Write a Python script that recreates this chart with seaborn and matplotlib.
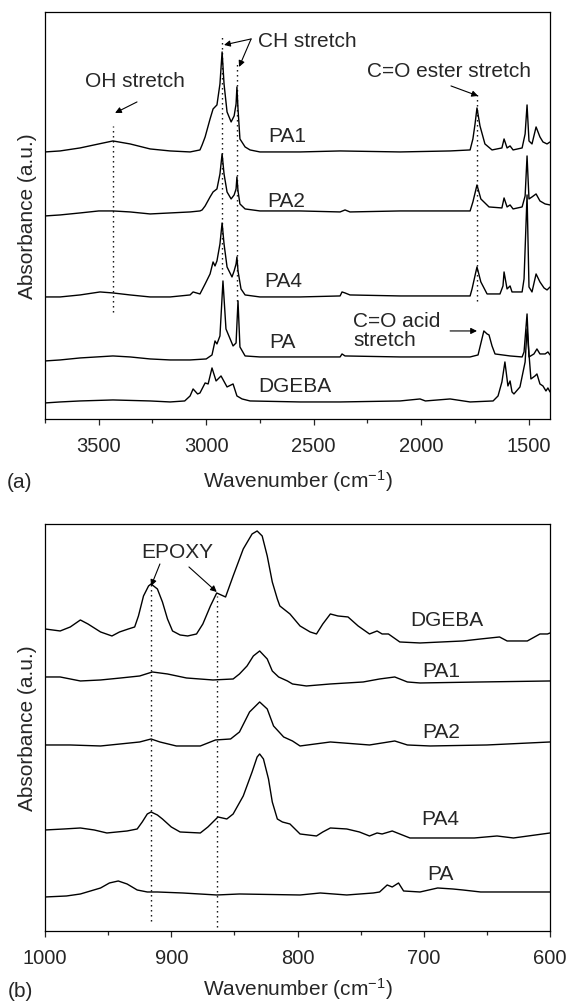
#___________________________________________________________________________________________________________________________________________
# Required Modules
import pandas as pd
import matplotlib
matplotlib.use("Agg")
import matplotlib.pyplot as plt
from matplotlib.ticker import MultipleLocator
import seaborn as sns
#___________________________________________________________________________________________________________________________________________
# Spectra (stacked, arbitrary absorbance units)
# (a) 3750 - 1400 cm-1
pa1_a_wn = [3750, 3680, 3587, 3500, 3434, 3354, 3261, 3168, 3075, 3029, 3019, 3005, 2982, 2968, 2950, 2936, 2926, 2917,
            2903, 2884, 2870, 2861, 2857, 2852, 2843, 2819, 2796, 2750, 2563, 2377, 2098, 1865, 1772, 1759, 1749, 1740,
            1726, 1703, 1670, 1624, 1614, 1600, 1586, 1572, 1530, 1516, 1507, 1498, 1484, 1465, 1447, 1433, 1414, 1400]
pa1_a_abs = [2.67, 2.68, 2.71, 2.75, 2.78, 2.75, 2.70, 2.68, 2.67, 2.69, 2.74, 2.82, 3.00, 3.10, 3.14, 3.35, 3.67, 3.35,
             3.07, 2.97, 3.03, 3.15, 3.32, 3.10, 2.80, 2.72, 2.69, 2.67, 2.67, 2.68, 2.67, 2.68, 2.69, 2.80, 2.95, 3.11,
             2.93, 2.75, 2.69, 2.71, 2.80, 2.71, 2.73, 2.69, 2.71, 2.85, 3.14, 2.78, 2.75, 2.92, 2.82, 2.77, 2.75, 2.77]

pa2_a_wn = [3750, 3680, 3587, 3500, 3434, 3354, 3261, 3168, 3075, 3029, 3019, 3005, 2982, 2968, 2950, 2936, 2926, 2917,
            2903, 2884, 2870, 2861, 2857, 2852, 2843, 2819, 2750, 2563, 2377, 2354, 2331, 2098, 1865, 1772, 1759, 1740,
            1722, 1684, 1624, 1614, 1600, 1586, 1572, 1530, 1516, 1507, 1498, 1484, 1465, 1447, 1423, 1400]
pa2_a_abs = [2.03, 2.04, 2.06, 2.08, 2.08, 2.07, 2.05, 2.06, 2.07, 2.08, 2.09, 2.13, 2.22, 2.27, 2.30, 2.45, 2.65, 2.45,
             2.27, 2.20, 2.24, 2.30, 2.42, 2.28, 2.15, 2.10, 2.08, 2.08, 2.07, 2.09, 2.07, 2.08, 2.08, 2.08, 2.17, 2.34,
             2.20, 2.12, 2.11, 2.21, 2.12, 2.14, 2.10, 2.12, 2.23, 2.63, 2.20, 2.22, 2.25, 2.18, 2.15, 2.14]

pa4_a_wn = [3750, 3680, 3587, 3494, 3434, 3354, 3261, 3168, 3075, 3061, 3029, 3005, 2982, 2968, 2959, 2950, 2936, 2926,
            2917, 2903, 2880, 2870, 2861, 2857, 2852, 2838, 2819, 2750, 2563, 2377, 2368, 2354, 2331, 2098, 1865, 1772,
            1763, 1740, 1722, 1693, 1633, 1619, 1614, 1600, 1586, 1577, 1530, 1521, 1507, 1498, 1484, 1465, 1447, 1428,
            1414, 1400]
pa4_a_abs = [1.22, 1.22, 1.24, 1.27, 1.26, 1.24, 1.22, 1.22, 1.24, 1.27, 1.25, 1.35, 1.45, 1.57, 1.53, 1.58, 1.75, 1.96,
             1.75, 1.52, 1.42, 1.48, 1.55, 1.62, 1.48, 1.30, 1.24, 1.22, 1.22, 1.23, 1.27, 1.26, 1.24, 1.23, 1.23, 1.23,
             1.30, 1.52, 1.37, 1.25, 1.25, 1.33, 1.47, 1.30, 1.33, 1.27, 1.27, 1.40, 2.24, 1.32, 1.27, 1.45, 1.37, 1.31,
             1.29, 1.32]

pa_a_wn = [3750, 3680, 3587, 3434, 3354, 3261, 3168, 3075, 3000, 2973, 2959, 2950, 2936, 2922, 2908, 2875, 2861, 2852,
           2843, 2819, 2750, 2563, 2377, 2368, 2354, 2098, 1865, 1772, 1735, 1717, 1708, 1693, 1684, 1670, 1656, 1586,
           1530, 1521, 1507, 1498, 1475, 1461, 1447, 1423, 1410, 1400]
pa_a_abs = [0.58, 0.59, 0.61, 0.63, 0.62, 0.60, 0.59, 0.59, 0.60, 0.64, 0.78, 0.75, 0.83, 1.38, 0.90, 0.73, 0.76, 1.18,
            0.72, 0.63, 0.62, 0.62, 0.62, 0.65, 0.63, 0.62, 0.62, 0.62, 0.64, 0.80, 0.88, 0.85, 0.84, 0.73, 0.65, 0.63,
            0.62, 0.67, 1.05, 0.62, 0.65, 0.70, 0.65, 0.65, 0.67, 0.64]

dgeba_a_wn = [3750, 3680, 3587, 3434, 3261, 3168, 3100, 3075, 3061, 3040, 3029, 3005, 2991, 2973, 2954, 2931, 2903, 2875,
              2857, 2833, 2796, 2563, 2377, 2098, 2005, 1980, 1865, 1772, 1665, 1642, 1624, 1610, 1596, 1586, 1577, 1568,
              1540, 1516, 1507, 1489, 1470, 1461, 1447, 1433, 1419, 1410, 1400]
dgeba_a_abs = [0.16, 0.17, 0.18, 0.19, 0.18, 0.17, 0.18, 0.23, 0.30, 0.25, 0.26, 0.36, 0.35, 0.51, 0.38, 0.43, 0.32, 0.35,
               0.23, 0.20, 0.18, 0.17, 0.17, 0.18, 0.20, 0.18, 0.20, 0.17, 0.18, 0.23, 0.37, 0.57, 0.33, 0.38, 0.27, 0.25,
               0.32, 0.57, 0.90, 0.40, 0.43, 0.45, 0.35, 0.33, 0.28, 0.31, 0.27]

# (b) 1000 - 600 cm-1
dgeba_b_wn = [1000, 988, 980, 972, 966, 956, 947, 941, 934, 929, 926, 922, 918, 916, 911, 907, 903, 899, 893, 887, 880,
              875, 869, 864, 857, 851, 843, 836, 832, 828, 824, 820, 816, 814, 806, 798, 790, 785, 780, 774, 768, 760,
              752, 743, 737, 733, 728, 719, 703, 669, 655, 640, 634, 618, 608, 602, 600]
dgeba_b_abs = [3.02, 3.00, 3.04, 3.11, 3.07, 2.99, 2.95, 2.99, 3.02, 3.04, 3.15, 3.35, 3.45, 3.47, 3.42, 3.29, 3.12, 3.00,
               2.96, 2.95, 2.97, 3.07, 3.25, 3.38, 3.34, 3.55, 3.82, 3.97, 4.00, 3.95, 3.75, 3.49, 3.32, 3.25, 3.17, 3.05,
               2.99, 2.97, 3.07, 3.17, 3.15, 3.14, 3.05, 2.97, 3.00, 2.97, 2.97, 2.89, 2.88, 2.90, 2.92, 2.94, 2.90, 2.90,
               2.97, 2.97, 2.98]

pa1_b_wn = [1000, 988, 972, 956, 940, 925, 915, 903, 888, 867, 851, 846, 840, 835, 830, 824, 820, 815, 808, 804, 793, 774,
            748, 735, 723, 713, 703, 655, 600]
pa1_b_abs = [2.54, 2.54, 2.50, 2.51, 2.53, 2.55, 2.59, 2.57, 2.53, 2.51, 2.52, 2.57, 2.65, 2.75, 2.80, 2.72, 2.60, 2.54,
             2.50, 2.47, 2.45, 2.47, 2.49, 2.52, 2.54, 2.49, 2.48, 2.49, 2.50]

pa2_b_wn = [1000, 980, 956, 925, 916, 909, 896, 877, 865, 853, 846, 838, 830, 824, 819, 811, 804, 798, 774, 743, 723, 713,
            695, 650, 600]
pa2_b_abs = [1.86, 1.86, 1.85, 1.89, 1.92, 1.89, 1.85, 1.85, 1.91, 1.92, 1.99, 2.19, 2.29, 2.22, 2.05, 1.94, 1.90, 1.85,
             1.89, 1.86, 1.90, 1.86, 1.85, 1.86, 1.89]

pa4_b_wn = [1000, 985, 972, 961, 951, 935, 927, 923, 919, 916, 911, 907, 900, 893, 877, 871, 863, 856, 851, 843, 836, 832,
            830, 827, 823, 820, 816, 812, 806, 798, 785, 780, 774, 761, 751, 743, 737, 733, 725, 711, 660, 642, 629, 600]
pa4_b_abs = [1.01, 1.02, 1.03, 1.01, 0.98, 1.00, 1.02, 1.09, 1.17, 1.19, 1.16, 1.12, 1.04, 0.99, 0.98, 1.04, 1.14, 1.12,
             1.17, 1.35, 1.59, 1.74, 1.77, 1.72, 1.52, 1.29, 1.12, 1.09, 1.07, 0.97, 0.95, 0.99, 1.03, 1.02, 0.99, 0.95,
             0.98, 0.97, 1.00, 0.93, 0.93, 0.95, 0.93, 0.98]

pa_b_wn = [1000, 983, 972, 964, 956, 949, 942, 935, 927, 919, 911, 891, 864, 846, 798, 782, 761, 740, 735, 729, 725, 720,
           716, 703, 689, 677, 669, 655, 600]
pa_b_abs = [0.34, 0.35, 0.37, 0.40, 0.43, 0.48, 0.50, 0.47, 0.41, 0.39, 0.39, 0.38, 0.36, 0.37, 0.36, 0.38, 0.36, 0.38,
            0.39, 0.46, 0.44, 0.48, 0.40, 0.39, 0.43, 0.42, 0.41, 0.39, 0.39]

samples_a = ["PA1", "PA2", "PA4", "PA", "DGEBA"]
samples_b = ["DGEBA", "PA1", "PA2", "PA4", "PA"]
#___________________________________________________________________________________________________________________________________________
# Long tables for seaborn
def long_table(names, wns, vals):
    frames = [pd.DataFrame({"sample": n, "wn": w, "abs": v}) for n, w, v in zip(names, wns, vals)]
    return pd.concat(frames, ignore_index=True)

df_a = long_table(samples_a,
                  [pa1_a_wn, pa2_a_wn, pa4_a_wn, pa_a_wn, dgeba_a_wn],
                  [pa1_a_abs, pa2_a_abs, pa4_a_abs, pa_a_abs, dgeba_a_abs])
df_b = long_table(samples_b,
                  [dgeba_b_wn, pa1_b_wn, pa2_b_wn, pa4_b_wn, pa_b_wn],
                  [dgeba_b_abs, pa1_b_abs, pa2_b_abs, pa4_b_abs, pa_b_abs])
#___________________________________________________________________________________________________________________________________________
# Style
sns.set_style("white")
plt.rcParams["font.family"] = ["Liberation Sans", "DejaVu Sans"]
plt.rcParams["mathtext.default"] = "regular"
plt.rcParams["axes.linewidth"] = 0.9

FS = 15

fig = plt.figure(figsize=(5.67, 10.03), dpi=100)
ax_a = fig.add_axes([0.0794, 0.5813, 0.8907, 0.4058])
ax_b = fig.add_axes([0.0794, 0.0708, 0.8907, 0.4058])

for ax, df, lp in [(ax_a, df_a, 9), (ax_b, df_b, 6)]:
    sns.lineplot(data=df, x="wn", y="abs", units="sample", estimator=None, sort=False,
                 color="black", linewidth=1.0, ax=ax, legend=False)
    ax.set_ylim(0, 4.07)
    ax.set_ylabel("Absorbance (a.u.)", fontsize=FS, labelpad=6)
    ax.set_xlabel("Wavenumber (cm$^{-1}$)", fontsize=FS, labelpad=lp)
    ax.tick_params(axis="y", left=False, labelleft=False)
    ax.tick_params(axis="x", which="major", direction="out", length=4, width=0.9, pad=8, labelsize=14.5, bottom=True)
    ax.tick_params(axis="x", which="minor", direction="out", length=3, width=0.9, bottom=True)
    for s in ax.spines.values():
        s.set_color("black")
        s.set_linewidth(0.9)

dot = (0, (1, 2.6))
arrow = dict(arrowstyle="-|>", color="black", lw=0.8, mutation_scale=9, shrinkA=0, shrinkB=0)

# PLOT (a)
ax_a.set_xlim(3750, 1400)
ax_a.xaxis.set_major_locator(MultipleLocator(500))
ax_a.xaxis.set_minor_locator(MultipleLocator(250))
for wn, y0, y1 in [(3434, 1.07, 2.93), (2926, 1.45, 3.82), (2855, 1.18, 3.55), (1740, 1.18, 3.25)]:
    ax_a.plot([wn, wn], [y0, y1], color="black", lw=1.0, linestyle=dot)
for name, x, y in [("PA1", 2624, 2.83), ("PA2", 2629, 2.18), ("PA4", 2643, 1.38), ("PA", 2643, 0.77), ("DGEBA", 2587, 0.33)]:
    ax_a.text(x, y, name, fontsize=FS, ha="center", va="center")
ax_a.annotate("", xy=(3424, 3.06), xytext=(3322, 3.17), arrowprops=arrow)
ax_a.text(3331, 3.38, "OH stretch", fontsize=FS, ha="center", va="center")
ax_a.annotate("", xy=(2917, 3.74), xytext=(2791, 3.80), arrowprops=arrow)
ax_a.annotate("", xy=(2847, 3.52), xytext=(2791, 3.80), arrowprops=arrow)
ax_a.text(2759, 3.78, "CH stretch", fontsize=FS, ha="left", va="center")
ax_a.annotate("", xy=(1735, 3.23), xytext=(1861, 3.33), arrowprops=arrow)
ax_a.text(1870, 3.48, "C=O ester stretch", fontsize=FS, ha="center", va="center")
ax_a.annotate("", xy=(1740, 0.88), xytext=(1865, 0.88), arrowprops=arrow)
ax_a.text(2317, 0.89, "C=O acid\nstretch", fontsize=FS, ha="left", va="center", linespacing=0.95)

# PLOT (b)
ax_b.set_xlim(1000, 600)
ax_b.xaxis.set_major_locator(MultipleLocator(100))
ax_b.xaxis.set_minor_locator(MultipleLocator(50))
for wn, y0, y1 in [(916, 0.10, 3.47), (864, 0.04, 3.35)]:
    ax_b.plot([wn, wn], [y0, y1], color="black", lw=1.0, linestyle=dot)
for name, x, y in [("DGEBA", 682, 3.11), ("PA1", 686, 2.60), ("PA2", 686, 1.99), ("PA4", 687, 1.12), ("PA", 687, 0.57)]:
    ax_b.text(x, y, name, fontsize=FS, ha="center", va="center")
ax_b.annotate("", xy=(916, 3.45), xytext=(909, 3.67), arrowprops=arrow)
ax_b.annotate("", xy=(864, 3.39), xytext=(886, 3.64), arrowprops=arrow)
ax_b.text(895, 3.79, "EPOXY", fontsize=FS, ha="center", va="center")

fig.text(20 / 567, 1 - 483 / 1003, "(a)", fontsize=FS, ha="center", va="center")
fig.text(20 / 567, 1 - 992 / 1003, "(b)", fontsize=FS, ha="center", va="center")

plt.savefig("out.png", dpi=100)
